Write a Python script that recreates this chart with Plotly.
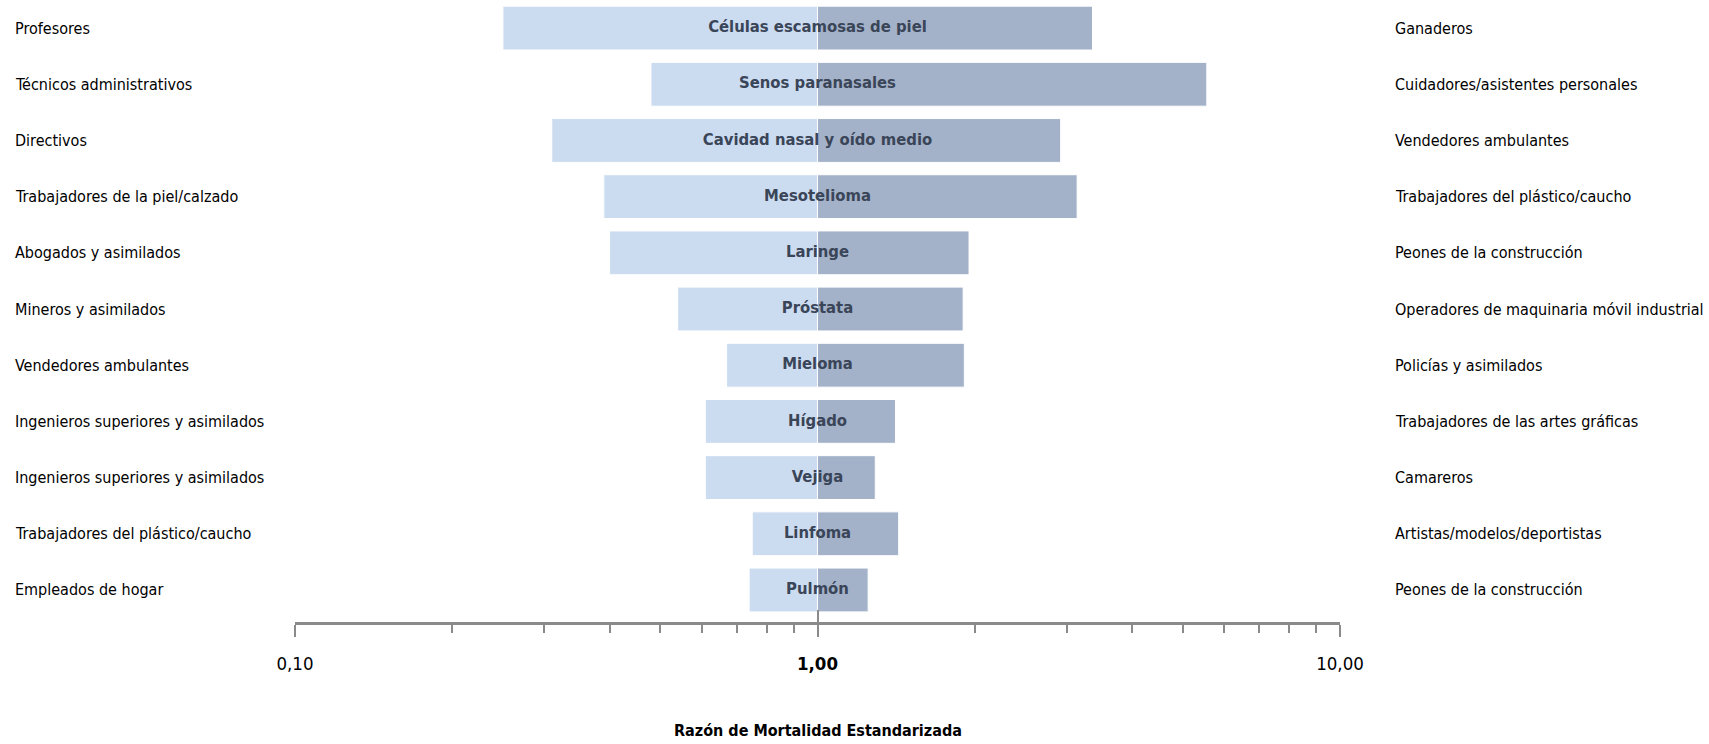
import plotly.graph_objects as go

# Tumour sites, ordered top to bottom
cancers = ["Células escamosas de piel", "Senos paranasales", "Cavidad nasal y oído medio",
           "Mesotelioma", "Laringe", "Próstata", "Mieloma", "Hígado", "Vejiga",
           "Linfoma", "Pulmón"]

# Occupation with the lowest ratio for each site (left column)
low_occ = ["Profesores", "Técnicos administrativos", "Directivos",
           "Trabajadores de la piel/calzado", "Abogados y asimilados",
           "Mineros y asimilados", "Vendedores ambulantes",
           "Ingenieros superiores y asimilados", "Ingenieros superiores y asimilados",
           "Trabajadores del plástico/caucho", "Empleados de hogar"]

# Occupation with the highest ratio for each site (right column)
high_occ = ["Ganaderos", "Cuidadores/asistentes personales", "Vendedores ambulantes",
            "Trabajadores del plástico/caucho", "Peones de la construcción",
            "Operadores de maquinaria móvil industrial", "Policías y asimilados",
            "Trabajadores de las artes gráficas", "Camareros",
            "Artistas/modelos/deportistas", "Peones de la construcción"]

# Standardised mortality ratios
rme_low = [0.25, 0.48, 0.31, 0.39, 0.40, 0.54, 0.67, 0.61, 0.61, 0.75, 0.74]
rme_high = [3.36, 5.56, 2.92, 3.14, 1.95, 1.90, 1.91, 1.41, 1.29, 1.43, 1.25]

# Axis ticks
major_vals = [0.1, 1, 10]
major_text = ["0,10", "<b>1,00</b>", "10,00"]
minor_vals = [0.2, 0.3, 0.4, 0.5, 0.6, 0.7, 0.8, 0.9, 2, 3, 4, 5, 6, 7, 8, 9]
axis_title = "Razón de Mortalidad Estandarizada"

W, H = 1709, 744
NARROW = "Liberation Sans Narrow, DejaVu Sans Condensed, Arial Narrow, sans-serif"
rows = list(range(len(cancers)))

fig = go.Figure()

# Bars grow from the reference value 1 towards each ratio
fig.add_trace(go.Bar(
    y=rows, x=[v - 1 for v in rme_low], base=1, orientation="h",
    marker=dict(color="#CBDBF0", line=dict(color="#FFFFFF", width=1)),
    width=0.78, showlegend=False, hoverinfo="skip"))
fig.add_trace(go.Bar(
    y=rows, x=[v - 1 for v in rme_high], base=1, orientation="h",
    marker=dict(color="#A3B2C9", line=dict(color="#FFFFFF", width=1)),
    width=0.78, showlegend=False, hoverinfo="skip"))

# Site names centred on the reference line
fig.add_trace(go.Scatter(
    y=rows, x=[1] * len(cancers), mode="text", text=cancers,
    textposition="middle center",
    textfont=dict(family=NARROW, size=16.5, color="#3A4558", weight="bold"),
    showlegend=False, hoverinfo="skip"))

# Inward half of the major ticks, drawn by an overlaid axis
fig.add_trace(go.Scatter(x=[1], y=[0], xaxis="x2", mode="markers",
                         marker=dict(opacity=0), showlegend=False, hoverinfo="skip"))

annotations = []
for i, (lo, hi) in enumerate(zip(low_occ, high_occ)):
    annotations.append(dict(x=13 / W, xref="paper", y=i, yref="y", text=lo,
                            xanchor="left", yanchor="middle", showarrow=False,
                            font=dict(family=NARROW, size=16, color="#000000")))
    annotations.append(dict(x=1393 / W, xref="paper", y=i, yref="y", text=hi,
                            xanchor="left", yanchor="middle", showarrow=False,
                            font=dict(family=NARROW, size=16, color="#000000")))

# Axis title below the tick labels
annotations.append(dict(x=0, xref="x", y=14 / H, yref="paper",
                        text="<b>" + axis_title + "</b>",
                        xanchor="center", yanchor="middle", showarrow=False,
                        font=dict(family=NARROW, size=16, color="#000000")))

x_dom = [295 / W, 1340 / W]
y_dom = [1 - 622 / H, 1]

fig.update_layout(
    width=W, height=H,
    margin=dict(l=0, r=0, t=0, b=0, autoexpand=False),
    paper_bgcolor="white", plot_bgcolor="white",
    barmode="overlay",
    annotations=annotations,
    xaxis=dict(
        type="log", range=[-1, 1], domain=x_dom, automargin=False,
        showgrid=False, zeroline=False,
        showline=True, linecolor="#8A8A8A", linewidth=3,
        tickmode="array", tickvals=major_vals, ticktext=major_text,
        ticks="outside", ticklen=12, tickwidth=1.5, tickcolor="#8A8A8A",
        ticklabelstandoff=11,
        tickfont=dict(family=NARROW, size=18.5, color="#000000"),
        minor=dict(tickmode="array", tickvals=minor_vals, ticks="outside",
                   ticklen=8, tickwidth=1.5, tickcolor="#8A8A8A", showgrid=False),
        anchor="y",
    ),
    xaxis2=dict(
        type="log", range=[-1, 1], domain=x_dom, overlaying="x", anchor="y",
        side="bottom", showgrid=False, zeroline=False, showline=False,
        automargin=False,
        tickmode="array", tickvals=major_vals, ticks="inside", ticklen=12,
        tickwidth=1.5, tickcolor="#8A8A8A", showticklabels=False,
    ),
    yaxis=dict(
        range=[10.57, -0.5], domain=y_dom, automargin=False,
        showgrid=False, zeroline=False, showline=False,
        showticklabels=False, ticks="",
    ),
)

fig.write_html("out.html")
